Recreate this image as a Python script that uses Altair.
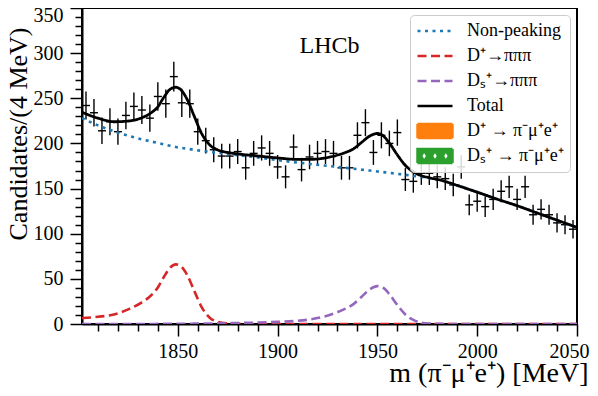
import altair as alt
import pandas as pd

SERIF = "Liberation Serif"

# ---------------- data ----------------
bin_centres = list(range(1804, 2049, 4))          # 4 MeV bins
counts = [242, 234, 214, 224, 213, 231, 241, 237, 228, 252,
          244, 274, 245, 244, 213, 203, 193, 186, 186, 191,
          173, 189, 195, 189, 174, 163, 196, 171, 185, 189,
          191, 189, 173, 173, 209, 223, 190, 209, 200, 212,
          160, 158, 167, 167, 163, 161, 154, 174, 132, 136,
          130, 138, 147, 152, 138, 152, 121, 127, 121, 112,
          110, 105]

curve_x = [1802, 1810, 1818, 1826, 1832, 1836, 1840, 1843, 1846, 1849,
           1852, 1855, 1858, 1862, 1866, 1870, 1875, 1880, 1890, 1900,
           1910, 1916, 1922, 1928, 1934, 1938, 1942, 1946, 1950, 1953,
           1956, 1960, 1964, 1968, 1972, 1976, 1982, 1990, 2000, 2010,
           2020, 2030, 2040, 2050]
non_peaking = [228, 220, 213.5, 208, 204.5, 202.5, 200.5, 199, 197.5, 196,
               195, 194, 193, 191.8, 190.7, 189.6, 188.3, 187, 184.5, 181.5,
               178.8, 177.3, 175.8, 174.4, 173, 172, 171, 170, 169, 168.2,
               167.4, 166.3, 165.2, 164, 162.8, 161.5, 159, 153.5, 146, 138.3,
               131, 123, 115, 107]
dplus_3pi = [6.5, 8, 10.5, 17, 24, 30.5, 40.5, 52, 62, 66,
             63, 53, 38, 18.5, 7, 2.5, 0.8, 0.3, 0, 0,
             0, 0, 0, 0, 0, 0, 0, 0, 0, 0,
             0, 0, 0, 0, 0, 0, 0, 0, 0, 0,
             0, 0, 0, 0]
ds_3pi = [0, 0, 0, 0, 0, 0, 0.1, 0.1, 0.2, 0.2,
          0.3, 0.3, 0.4, 0.5, 0.6, 0.7, 0.9, 1.1, 1.6, 2.4,
          3.5, 5, 7.5, 11.5, 17, 22, 30, 38, 42, 40,
          33, 21, 10.5, 4.5, 1.5, 0.5, 0.1, 0, 0, 0,
          0, 0, 0, 0]
total = [234.5, 228, 224, 225, 228.5, 233, 240.6, 251.1, 259.7, 262.2,
         258.3, 247.3, 231.4, 210.8, 198.3, 192.8, 190, 188.4, 186.1, 183.9,
         182.3, 182.3, 183.3, 185.9, 190, 194, 201, 208, 211, 208.2,
         200.4, 187.3, 175.7, 168.5, 164.3, 162, 159.1, 153.5, 146, 138.3,
         131, 123, 115, 107]

names = ["Non-peaking", "D⁺→πππ", "Dₛ⁺→πππ", "Total",
         "D⁺ → π⁻μ⁺e⁺", "Dₛ⁺ → π⁻μ⁺e⁺"]
colors = ["#1f77b4", "#d62728", "#9467bd", "#000000", "#ff7f0e", "#2ca02c"]
dashes = [[3, 4.5], [9, 4.5], [9, 4.5], [1, 0], [1, 0], [1, 0]]

x_ticks = list(range(1810, 2051, 10))
y_ticks = list(range(0, 351, 10))
x_domain = [1802, 2050]
y_domain = [0, 350]

# ---------------- tables ----------------
pts = pd.DataFrame({"m": bin_centres, "n": counts})
comp_rows = []
for nm, vals in zip(names[:3], [non_peaking, dplus_3pi, ds_3pi]):
    for xv, yv in zip(curve_x, vals):
        comp_rows.append({"m": xv, "v": yv, "comp": nm})
comps_df = pd.DataFrame(comp_rows)
total_df = pd.DataFrame({"m": curve_x, "v": total, "comp": names[3]})
label_df = pd.DataFrame({"m": [1926], "v": [308], "t": ["LHCb"]})

# ---------------- scales / axes ----------------
xs = alt.Scale(domain=x_domain, nice=False, zero=False)
ys = alt.Scale(domain=y_domain, nice=False)

major = "datum.value % 50 === 0"
xaxis = alt.Axis(values=x_ticks, format="d",
                 labelExpr=f"{major} ? datum.label : ''",
                 tickSize={"condition": {"test": major, "value": 12}, "value": 7},
                 labelPadding=5, labelFlush=True, labelFlushOffset=12, labelOverlap=False,
                 title="m (π⁻μ⁺e⁺) [MeV]", titleAnchor="end", titleAlign="right",
                 titleX=506, titleY=57, titleBaseline="alphabetic", titleFontSize=28)
yaxis = alt.Axis(values=y_ticks, format="d",
                 labelExpr=f"{major} ? datum.label : ''",
                 tickSize={"condition": {"test": major, "value": 12}, "value": 7},
                 labelOffset={"condition": {"test": "datum.value === 350", "value": 7}, "value": 0},
                 labelPadding=7, labelFlush=False, labelOverlap=False,
                 title="Candidates/(4 MeV)", titleAlign="left", titleAngle=270,
                 titleX=-56, titleY=232, titleBaseline="alphabetic", titleFontSize=26)

RECT = "M-1,-0.4H1V0.4H-1Z"
HATCH = ("M-1,-0.4H1V0.4H-1Z"
         "M-0.62,-0.3L-0.8,0L-0.62,0.3L-0.44,0Z"
         "M0,-0.3L-0.18,0L0,0.3L0.18,0Z"
         "M0.62,-0.3L0.44,0L0.62,0.3L0.8,0Z")
sig_shape = (f"datum.value === '{names[4]}' ? '{RECT}' : "
             f"datum.value === '{names[5]}' ? '{HATCH}' : 'stroke'")
sig_fill = (f"datum.value === '{names[4]}' ? '{colors[4]}' : "
            f"datum.value === '{names[5]}' ? '{colors[5]}' : 'transparent'")

leg = alt.Legend(title=None, orient="top-right", offset=7,
                 symbolType=alt.ExprRef(expr=sig_shape),
                 symbolFillColor=alt.ExprRef(expr=sig_fill),
                 symbolSize=1225, symbolStrokeWidth=2.5, clipHeight=20, rowPadding=5,
                 labelFont=SERIF, labelFontSize=18, labelColor="black", labelOffset=13,
                 labelLimit=220, padding=6, fillColor="rgba(255,255,255,0.85)",
                 strokeColor="#cccccc", cornerRadius=4)

cscale = alt.Scale(domain=names, range=colors)
dscale = alt.Scale(domain=names, range=dashes)

X = alt.X("m:Q", scale=xs, axis=xaxis)

base_pts = alt.Chart(pts).transform_calculate(
    lo="datum.n - sqrt(datum.n)", hi="datum.n + sqrt(datum.n)",
    xl="datum.m - 2", xh="datum.m + 2")
vbar = base_pts.mark_rule(color="black", strokeWidth=1.4, clip=True).encode(
    x=X, y=alt.Y("lo:Q", scale=ys, axis=yaxis), y2="hi:Q")
hbar = base_pts.mark_rule(color="black", strokeWidth=1.4, clip=True).encode(
    x=alt.X("xl:Q", scale=xs, axis=xaxis), x2="xh:Q",
    y=alt.Y("n:Q", scale=ys, axis=yaxis))

comps = alt.Chart(comps_df).mark_line(interpolate="monotone", strokeWidth=2.6, clip=True).encode(
    x=X, y=alt.Y("v:Q", scale=ys, axis=yaxis),
    color=alt.Color("comp:N", scale=cscale, legend=leg),
    strokeDash=alt.StrokeDash("comp:N", scale=dscale, legend=leg))
tot = alt.Chart(total_df).mark_line(interpolate="monotone", strokeWidth=2.8, clip=True).encode(
    x=X, y=alt.Y("v:Q", scale=ys, axis=yaxis),
    color=alt.Color("comp:N", scale=cscale, legend=leg),
    strokeDash=alt.StrokeDash("comp:N", scale=dscale, legend=leg))
lhcb = alt.Chart(label_df).mark_text(font=SERIF, fontSize=24, align="center",
                                     baseline="middle", color="black").encode(
    x=X, y=alt.Y("v:Q", scale=ys, axis=yaxis), text="t:N")

chart = alt.layer(vbar, hbar, comps, tot, lhcb).properties(
    width=495, height=316,
    autosize=alt.AutoSizeParams(type="none"),
    padding={"left": 74, "top": 0, "right": 13, "bottom": 64},
).configure_view(stroke="black", strokeWidth=2).configure_axis(
    domainColor="black", domainWidth=2, tickColor="black", tickWidth=1.5,
    labelFont=SERIF, labelFontSize=20, labelColor="black",
    titleFont=SERIF, titleFontSize=27, titleFontWeight="normal", titleColor="black",
    grid=False).configure_legend(labelFont=SERIF, labelFontSize=18, labelColor="black")

chart.save("out.html", embed_options={"renderer": "svg", "actions": False})
